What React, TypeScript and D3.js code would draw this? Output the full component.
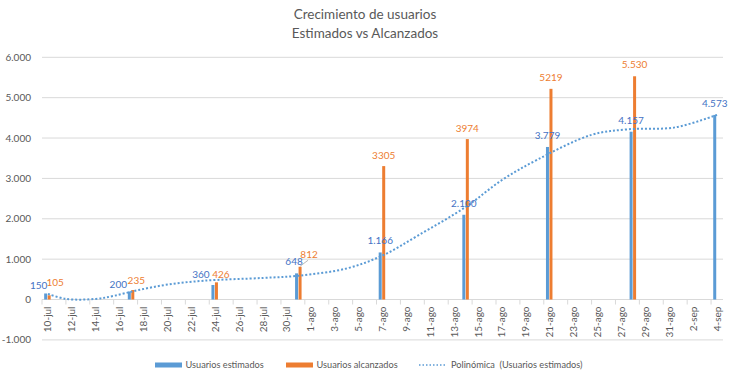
import React from "react";
import * as d3 from "d3";

// ---------- data ----------
const titleLines = ["Crecimiento de usuarios", "Estimados vs Alcanzados"];
const startDate = "2017-07-10";
const dataDates = ["2017-07-10", "2017-07-17", "2017-07-24", "2017-07-31", "2017-08-07", "2017-08-14", "2017-08-21", "2017-08-28", "2017-09-04"];
const estimated = [150, 200, 360, 648, 1166, 2100, 3779, 4157, 4573];
const achieved: (number | null)[] = [105, 235, 426, 812, 3305, 3974, 5219, 5530, null];
const estimatedLabels = ["150", "200", "360", "648", "1.166", "2.100", "3.779", "4.157", "4.573"];
const achievedLabels = ["105", "235", "426", "812", "3305", "3974", "5219", "5.530", ""];
const tickLabels = [
  "10-jul", "12-jul", "14-jul", "16-jul", "18-jul", "20-jul", "22-jul", "24-jul", "26-jul", "28-jul", "30-jul",
  "1-ago", "3-ago", "5-ago", "7-ago", "9-ago", "11-ago", "13-ago", "15-ago", "17-ago", "19-ago", "21-ago",
  "23-ago", "25-ago", "27-ago", "29-ago", "31-ago", "2-sep", "4-sep",
];
const yTicks = [-1000, 0, 1000, 2000, 3000, 4000, 5000, 6000];
const yTickLabels = ["-1.000", "0", "1.000", "2.000", "3.000", "4.000", "5.000", "6.000"];
// polynomial trendline: day offset from 10-jul, value
const trendDays = [0, 1.5, 4, 5.5, 7.5, 10, 13, 18, 21, 25, 28, 31, 35, 38, 41, 45.5, 48.5, 52.5, 56];
const trendValues = [140, 15, 15, 90, 230, 370, 465, 535, 590, 770, 1090, 1590, 2300, 2960, 3470, 4080, 4215, 4265, 4575];
const legendItems = ["Usuarios estimados", "Usuarios alcanzados", "Polinómica  (Usuarios estimados)"];

// label nudges (dx, dy of label centre from bar top)
const estLabelShift = [[-7, -8], [-11, -7], [-12, -10.5], [-2.5, -11.5], [0, -11.5], [0, -11.5], [0, -11.5], [0, -11.5], [0, -11.5]];
const achLabelShift = [[6, -12.5], [3.5, -9.5], [4.5, -8], [9, -12.5], [0, -11], [0, -11], [0, -11.5], [0, -11.5], [0, -11.5]];

// ---------- styles ----------
const BLUE = "#5B9BD5";
const ORANGE = "#ED7D31";
const BLUE_TXT = "#4472C4";
const ORANGE_TXT = "#ED7D31";
const GRID = "#D9D9D9";
const TXT = "#595959";
const FONT = "Lato, 'Open Sans', sans-serif";

export default function App() {
  const W = 730;
  const H = 380;
  const nDays = 57;
  const parse = d3.timeParse("%Y-%m-%d");
  const start = parse(startDate)!;
  const dayIdx = (s: string) => d3.timeDay.count(start, parse(s)!);

  const x = d3.scaleLinear().domain([0, nDays]).range([42, 723]);
  const cx = (i: number) => x(i + 0.5);
  const y = d3.scaleLinear().domain([-1000, 6000]).range([339.9, 57.3]);

  const line = d3
    .line<number>()
    .x((_, i) => cx(trendDays[i]))
    .y((v) => y(v))
    .curve(d3.curveCatmullRom.alpha(0.5));

  const barW = 3;
  const tickIdx = d3.range(0, nDays + 1, 2);

  return (
    <svg width={W} height={H} style={{ position: "absolute", left: 0, top: 0, display: "block", background: "#fff" }} fontFamily={FONT}>
      <rect x={0} y={0} width={W} height={H} fill="#fff" />
      {/* title */}
      <text x={365} y={19} textAnchor="middle" fontSize={13.5} fill={TXT}>{titleLines[0]}</text>
      <text x={365} y={38} textAnchor="middle" fontSize={13.5} fill={TXT}>{titleLines[1]}</text>

      {/* grid + y labels */}
      {yTicks.map((t, i) => (
        <g key={t}>
          <line x1={x(0)} x2={x(nDays)} y1={y(t)} y2={y(t)} stroke={GRID} strokeWidth={1} />
          <text x={31} y={y(t)} dy="0.35em" textAnchor="end" fontSize={10} fill={TXT}>{yTickLabels[i]}</text>
        </g>
      ))}

      {/* x axis ticks */}
      {tickIdx.map((d) => (
        <line key={d} x1={x(d)} x2={x(d)} y1={y(0)} y2={y(0) + 5} stroke={GRID} strokeWidth={1} />
      ))}
      {tickLabels.map((lbl, i) => (
        <text
          key={lbl}
          transform={`translate(${cx(i * 2)},${y(0) + 7}) rotate(-90)`}
          textAnchor="end"
          dy="0.35em"
          fontSize={10}
          fill={TXT}
        >
          {lbl}
        </text>
      ))}

      {/* bars */}
      {dataDates.map((dStr, i) => {
        const c = cx(dayIdx(dStr));
        const a = achieved[i];
        return (
          <g key={dStr}>
            <rect x={c - 3.8} width={barW} y={y(estimated[i])} height={y(0) - y(estimated[i])} fill={BLUE} />
            {a != null && <rect x={c - 0.3} width={barW} y={y(a)} height={y(0) - y(a)} fill={ORANGE} />}
          </g>
        );
      })}

      {/* trendline */}
      <path d={line(trendValues) || ""} fill="none" stroke={BLUE} strokeWidth={2} strokeDasharray="2 2" />

      {/* data labels */}
      {dataDates.map((dStr, i) => {
        const c = cx(dayIdx(dStr));
        const bx = c - 2.3;
        const ox = c + 1.2;
        const a = achieved[i];
        const ex = bx + estLabelShift[i][0];
        const ey = y(estimated[i]) + estLabelShift[i][1];
        const ax = ox + achLabelShift[i][0];
        const ay = a != null ? y(a) + achLabelShift[i][1] : 0;
        return (
          <g key={"l" + dStr}>
            <text x={ex} y={ey} dy="0.35em" textAnchor="middle" fontSize={10} fill={BLUE_TXT}>{estimatedLabels[i]}</text>
            {a != null && (
              <>
                {i === 3 && (
                  <line x1={ox} y1={y(a) - 0.5} x2={ax - 1} y2={ay + 6} stroke="#A6A6A6" strokeWidth={0.8} />
                )}
                <text x={ax} y={ay} dy="0.35em" textAnchor="middle" fontSize={10} fill={ORANGE_TXT}>{achievedLabels[i]}</text>
              </>
            )}
          </g>
        );
      })}

      {/* legend */}
      <g fontSize={9.2} fill={TXT}>
        <rect x={155} y={362.5} width={27} height={5} fill={BLUE} />
        <text x={185.5} y={365} dy="0.35em">{legendItems[0]}</text>
        <rect x={286} y={362.5} width={27} height={5} fill={ORANGE} />
        <text x={316.5} y={365} dy="0.35em">{legendItems[1]}</text>
        <line x1={419} x2={446} y1={365} y2={365} stroke={BLUE} strokeWidth={1.5} strokeDasharray="1.5 2" />
        <text x={451} y={365} dy="0.35em" style={{ whiteSpace: "pre" }}>{legendItems[2]}</text>
      </g>
    </svg>
  );
}
